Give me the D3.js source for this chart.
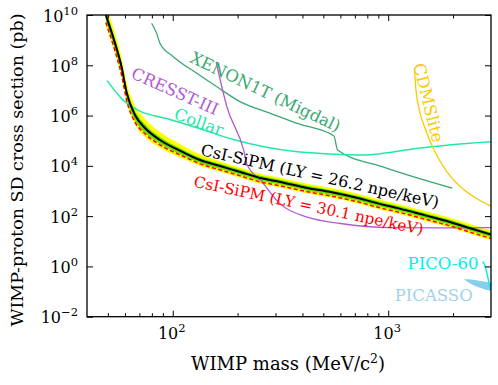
<!DOCTYPE html>
<html>
<head>
<meta charset="utf-8">
<script src="https://cdn.jsdelivr.net/npm/d3@7"></script>
<style>
  html, body { margin: 0; padding: 0; background: #fff; }
  text { font-family: "DejaVu Serif", serif; }
</style>
</head>
<body>
<svg id="chart" width="498" height="385"></svg>
<script>
// ---------------- DATA ----------------
// CsI-SiPM (LY = 26.2 npe/keV) expected limit with 1σ / 2σ bands
const csiMass     = [48.9, 53.9, 57.9, 61.2, 66.8, 74.3, 87.3, 111.7, 134, 166, 206, 255, 316, 422, 540, 722, 924, 1120, 1500, 1916, 2400, 3030];
const csi262      = [1e10, 7.8e8, 8.5e7, 7.9e6, 1.05e6, 3.2e5, 1.07e5, 3.5e4, 1.7e4, 9.8e3, 5.7e3, 3.3e3, 2.3e3, 1.32e3, 910, 525, 300, 204, 105, 60, 33, 18];
const csi301      = [5e9, 3.8e8, 4.0e7, 3.8e6, 5.5e5, 1.9e5, 6.8e4, 2.4e4, 1.2e4, 6.9e3, 4.0e3, 2.3e3, 1.6e3, 930, 640, 370, 210, 143, 74, 42, 23, 12.6];
const band2Hi     = [2.5e10, 2.0e9, 2.1e8, 2.0e7, 2.6e6, 7.5e5, 2.2e5, 6.3e4, 2.8e4, 1.5e4, 8.5e3, 4.9e3, 3.4e3, 1.95e3, 1.35e3, 780, 445, 300, 155, 89, 49, 27];
const band1Hi     = [1.5e10, 1.2e9, 1.3e8, 1.2e7, 1.55e6, 4.5e5, 1.4e5, 4.4e4, 2.1e4, 1.2e4, 7.0e3, 4.0e3, 2.8e3, 1.6e3, 1.1e3, 640, 365, 248, 128, 73, 40, 22];
const band1Lo     = [6e9, 4.5e8, 5.0e7, 4.8e6, 6.5e5, 2.1e5, 7.5e4, 2.6e4, 1.3e4, 7.6e3, 4.4e3, 2.55e3, 1.8e3, 1.03e3, 710, 410, 234, 159, 82, 47, 26, 14];
const band2Lo     = [4e9, 3.1e8, 3.3e7, 3.2e6, 4.4e5, 1.4e5, 5.2e4, 1.9e4, 9.8e3, 5.8e3, 3.4e3, 1.95e3, 1.38e3, 790, 545, 315, 180, 122, 63, 36, 20, 10.8];

// XENON1T (Migdal)
const xenonMass   = [79.8, 84.2, 87.3, 100.6, 129.3, 160.3, 206, 284, 378, 560, 582, 937, 1984];
const xenonSigma  = [4.7e9, 1.86e9, 7.4e8, 2.2e8, 4.8e7, 1.4e7, 3.5e6, 1.23e6, 4.9e5, 1.55e5, 4.3e4, 9.3e3, 1.29e3];

// CRESST-III
const cresstMass  = [159, 178.5, 213.3, 221.8, 255, 316, 422, 601, 1028, 1757, 3006];
const cresstSigma = [1.35e8, 2.2e6, 4.3e4, 1.07e4, 2.75e3, 300, 91, 51, 35, 34, 35];

// Collar
const collarMass  = [49.6, 58.7, 70.4, 93.8, 134, 191, 269, 379, 541, 784, 934, 1345, 1916, 3027];
const collarSigma = [2.45e7, 4.2e6, 1.5e6, 7.6e5, 2.95e5, 1.12e5, 5.6e4, 3.6e4, 2.95e4, 2.7e4, 3.1e4, 4.9e4, 6.8e4, 9.1e4];

// CDMSlite
const cdmsMass    = [1323, 1345, 1388, 1481, 1631, 1875, 2226, 2642, 3006];
const cdmsSigma   = [7.6e7, 1.05e7, 2.0e6, 3.2e5, 4.3e4, 5.8e3, 1.2e3, 440, 250];

// PICO-60
const picoMass    = [2749, 2789, 2983];
const picoSigma   = [1.54, 1.25, 0.115];

// PICASSO (filled region)
const picassoMass = [2242, 2425, 2642, 3006];
const picassoHi   = [0.307, 0.30, 0.27, 0.22];
const picassoLo   = [0.307, 0.20, 0.145, 0.105];

// ticks
const xMajor = [100, 1000];
const xMinor = [50, 60, 70, 80, 90, 200, 300, 400, 500, 600, 700, 800, 900, 2000];
const yMajor = [1e-2, 1e0, 1e2, 1e4, 1e6, 1e8, 1e10];
const xTickLabels = [{base: "10", exp: "2"}, {base: "10", exp: "3"}];
const yTickLabels = [{base: "10", exp: "−2"}, {base: "10", exp: "0"}, {base: "10", exp: "2"}, {base: "10", exp: "4"}, {base: "10", exp: "6"}, {base: "10", exp: "8"}, {base: "10", exp: "10"}];

// ---------------- LAYOUT ----------------
const svg = d3.select("#chart");
const L = 87, T = 15, R = 491, B = 316.7;
const x = d3.scaleLog().domain([40, 3000]).range([L, R]);
const y = d3.scaleLog().domain([1e-2, 1e10]).range([B, T]);

svg.append("defs").append("clipPath").attr("id", "clip")
  .append("rect").attr("x", L).attr("y", T).attr("width", R - L).attr("height", B - T);

const plot = svg.append("g").attr("clip-path", "url(#clip)");

function zipped(ms, vs) { return ms.map((m, i) => [m, vs[i]]); }
const line = d3.line().x(d => x(d[0])).y(d => y(d[1])).curve(d3.curveMonotoneX);

// bands
const areaGen = (lo, hi) => d3.area()
  .x((d, i) => x(csiMass[i])).y0((d, i) => y(lo[i])).y1((d, i) => y(hi[i]))
  .curve(d3.curveMonotoneX)(csiMass);

plot.append("path").attr("d", areaGen(band2Lo, band2Hi)).attr("fill", "#ffff00");
plot.append("path").attr("d", areaGen(band1Lo, band1Hi)).attr("fill", "#66e000");

// PICASSO
plot.append("path")
  .attr("d", d3.area().x((d, i) => x(picassoMass[i])).y0((d, i) => y(picassoLo[i])).y1((d, i) => y(picassoHi[i]))
    .curve(d3.curveMonotoneX)(picassoMass))
  .attr("fill", "#87ceeb");

function drawLine(ms, vs, color, w, dash) {
  const p = plot.append("path").attr("d", line(zipped(ms, vs)))
    .attr("fill", "none").attr("stroke", color).attr("stroke-width", w);
  if (dash) p.attr("stroke-dasharray", dash);
  return p;
}

drawLine(xenonMass, xenonSigma, "#3aa870", 1.3);
drawLine(collarMass, collarSigma, "#1eeaa0", 1.5);
drawLine(cresstMass, cresstSigma, "#b25ad2", 1.3);
drawLine(cdmsMass, cdmsSigma, "#fbc800", 1.3);
drawLine(picoMass, picoSigma, "#00f0f0", 1.5);
drawLine(csiMass, csi301, "#ff0000", 1.5, "4,2.5");
drawLine(csiMass, csi262, "#000000", 2);

// ---------------- AXES ----------------
const axG = svg.append("g");
function styleAxis(g) {
  g.select(".domain").remove();
  g.selectAll(".tick line").attr("stroke", "#000").attr("stroke-width", 1);
  g.selectAll(".tick text").remove();
}
axG.append("g").attr("transform", `translate(0,${B})`)
  .call(d3.axisBottom(x).tickValues(xMajor).tickSize(-6).tickFormat("")).call(styleAxis);
axG.append("g").attr("transform", `translate(0,${B})`)
  .call(d3.axisBottom(x).tickValues(xMinor).tickSize(-3.5).tickFormat("")).call(styleAxis);
axG.append("g").attr("transform", `translate(0,${T})`)
  .call(d3.axisTop(x).tickValues(xMajor).tickSize(-6).tickFormat("")).call(styleAxis);
axG.append("g").attr("transform", `translate(0,${T})`)
  .call(d3.axisTop(x).tickValues(xMinor).tickSize(-3.5).tickFormat("")).call(styleAxis);
axG.append("g").attr("transform", `translate(${L},0)`)
  .call(d3.axisLeft(y).tickValues(yMajor).tickSize(-6).tickFormat("")).call(styleAxis);
axG.append("g").attr("transform", `translate(${R},0)`)
  .call(d3.axisRight(y).tickValues(yMajor).tickSize(-6).tickFormat("")).call(styleAxis);

svg.append("rect").attr("x", L).attr("y", T).attr("width", R - L).attr("height", B - T)
  .attr("fill", "none").attr("stroke", "#000").attr("stroke-width", 1.3);

// tick labels
const tickFont = 16, supFont = 11.5;
xMajor.forEach((v, i) => {
  const t = svg.append("text").attr("x", x(v) - 1).attr("y", 339).attr("text-anchor", "middle")
    .attr("font-size", tickFont).attr("fill", "#000");
  t.append("tspan").text(xTickLabels[i].base);
  t.append("tspan").attr("font-size", supFont).attr("dy", -7).text(xTickLabels[i].exp);
});
yMajor.forEach((v, i) => {
  const t = svg.append("text").attr("x", 78).attr("y", y(v) + 6.5).attr("text-anchor", "end")
    .attr("font-size", tickFont).attr("fill", "#000");
  t.append("tspan").text(yTickLabels[i].base);
  t.append("tspan").attr("font-size", supFont).attr("dy", -7).text(yTickLabels[i].exp);
});

// axis titles
const xt = svg.append("text").attr("x", 288).attr("y", 370).attr("text-anchor", "middle")
  .attr("font-size", 18).attr("fill", "#000");
xt.append("tspan").text("WIMP mass (MeV/c");
xt.append("tspan").attr("font-size", 12.5).attr("dy", -7).text("2");
xt.append("tspan").attr("dy", 7).text(")");

svg.append("text").attr("transform", "translate(23,170) rotate(-90)").attr("text-anchor", "middle")
  .attr("font-size", 17.5).attr("fill", "#000").text("WIMP-proton SD cross section (pb)");

// annotations
function note(txt, px, py, angle, color, size, anchor) {
  svg.append("text").attr("transform", `translate(${px},${py}) rotate(${angle})`)
    .attr("text-anchor", anchor || "start").attr("font-size", size).attr("fill", color).text(txt);
}
note("XENON1T (Migdal)", 263, 97, 25.5, "#3aa870", 16.5, "middle");
note("CRESST-III", 172.6, 96.5, 24, "#b25ad2", 16.5, "middle");
note("Collar", 197, 127.3, 20, "#1eeaa0", 16.5, "middle");
note("CsI-SiPM (LY = 26.2 npe/keV)", 200, 155, 12.6, "#000000", 16, "start");
note("CsI-SiPM (LY = 30.1 npe/keV)", 193, 186.5, 11.9, "#ff0000", 15.4, "start");
note("CDMSlite", 423, 104, 76, "#fbc800", 16.5, "middle");
note("PICO-60", 478.5, 268.5, 0, "#00f0f0", 16.5, "end");
note("PICASSO", 394.7, 300.7, 0, "#9ed3ea", 16.5, "start");
</script>
</body>
</html>
